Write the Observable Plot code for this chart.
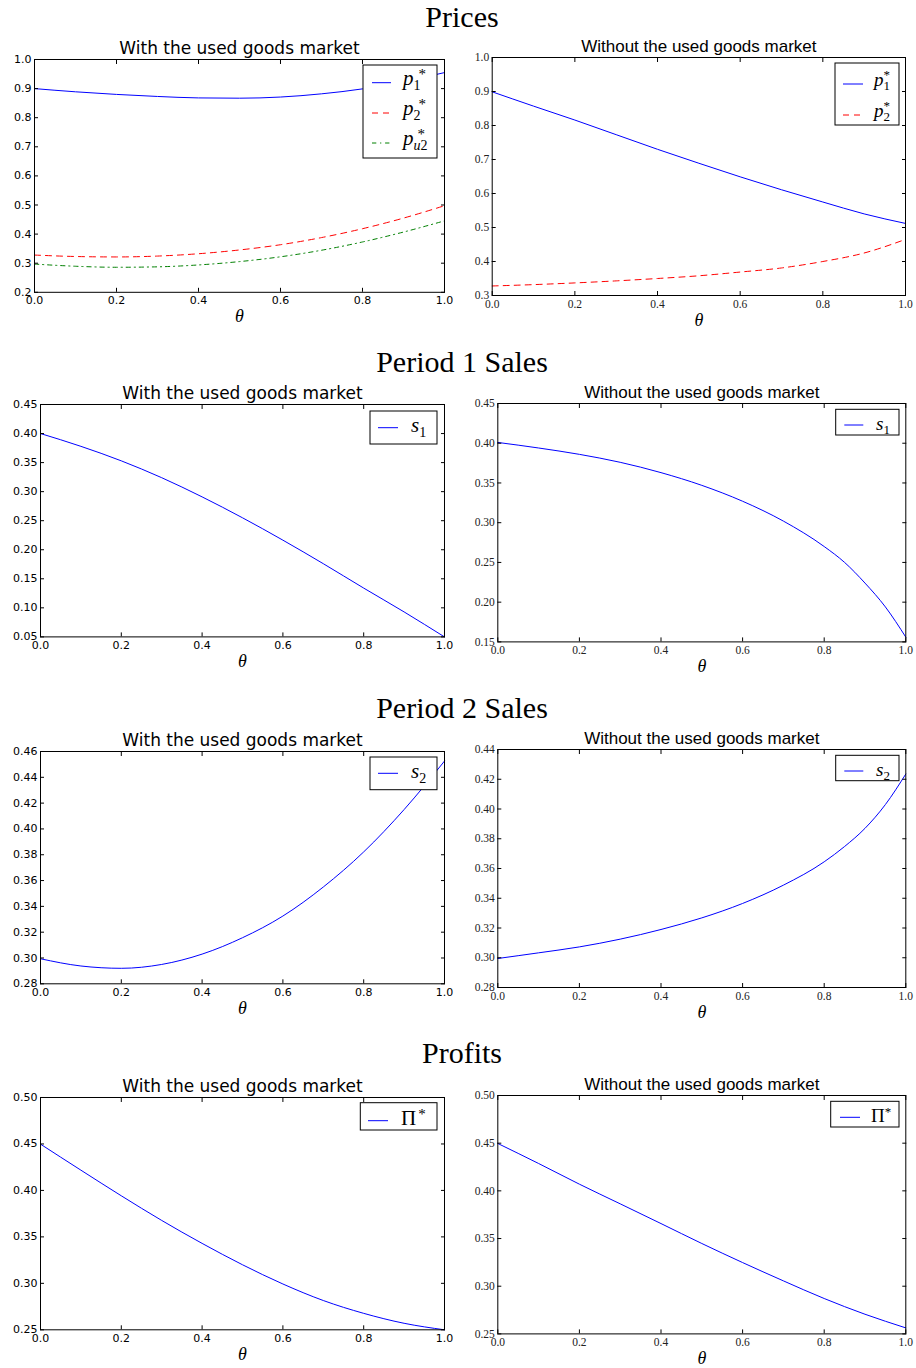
<!DOCTYPE html>
<html>
<head>
<meta charset="utf-8">
<script src="https://cdn.jsdelivr.net/npm/d3@7"></script>
<script src="https://cdn.jsdelivr.net/npm/@observablehq/plot@0.6"></script>
<style>
  html, body { margin: 0; padding: 0; background: #fff; }
  #page { position: relative; width: 916px; height: 1368px; overflow: hidden; background: #fff; }
  .panel { position: absolute; }
  .panel svg { overflow: visible; }
  #overlay { position: absolute; left: 0; top: 0; pointer-events: none; }
</style>
</head>
<body>
<div id="page"></div>
<script>
// ---------------- DATA ----------------
const theta = [0, 0.1, 0.2, 0.3, 0.4, 0.5, 0.6, 0.7, 0.8, 0.9, 1.0];
const thetaFine = [0, 0.1, 0.2, 0.3, 0.4, 0.5, 0.6, 0.7, 0.8, 0.85, 0.9, 0.95, 1.0];
const xTicks = [0, 0.2, 0.4, 0.6, 0.8, 1.0];

const rowTitles = ["Prices", "Period 1 Sales", "Period 2 Sales", "Profits"];
const titleWith = "With the used goods market";
const titleWithout = "Without the used goods market";

// Prices, with the used goods market
const pricesWithP1  = [0.900, 0.889, 0.880, 0.873, 0.868, 0.867, 0.871, 0.882, 0.899, 0.924, 0.955];
const pricesWithP2  = [0.328, 0.323, 0.3215, 0.3245, 0.3325, 0.3455, 0.3635, 0.388, 0.4185, 0.455, 0.4975];
const pricesWithPu2 = [0.297, 0.2895, 0.286, 0.2875, 0.294, 0.3055, 0.322, 0.3445, 0.373, 0.407, 0.4455];
// Prices, without the used goods market
const pricesWithoutP1 = [0.899, 0.857, 0.816, 0.773, 0.730, 0.689, 0.649, 0.611, 0.575, 0.540, 0.512];
const pricesWithoutP2 = [0.328, 0.332, 0.337, 0.343, 0.350, 0.358, 0.369, 0.381, 0.400, 0.425, 0.465];
// Period 1 sales
const sales1With    = [0.400, 0.378, 0.353, 0.324, 0.291, 0.255, 0.2165, 0.176, 0.134, 0.093, 0.050];
const sales1Without = [0.401, 0.394, 0.386, 0.376, 0.363, 0.347, 0.327, 0.302, 0.270, 0.250, 0.224, 0.194, 0.156]; // on thetaFine
// Period 2 sales
const sales2With    = [0.2994, 0.2938, 0.2920, 0.2950, 0.3030, 0.3157, 0.3325, 0.3550, 0.3822, 0.4150, 0.4526];
const sales2Without = [0.2995, 0.3033, 0.3073, 0.3125, 0.3190, 0.3268, 0.3365, 0.3488, 0.3645, 0.3748, 0.3870, 0.4030, 0.4235]; // on thetaFine
// Profits
const profitWith    = [0.4498, 0.4218, 0.3942, 0.3677, 0.3430, 0.3200, 0.2993, 0.2815, 0.2677, 0.2570, 0.2500];
const profitWithout = [0.4497, 0.4287, 0.4070, 0.3864, 0.3657, 0.3448, 0.3248, 0.3056, 0.2871, 0.2706, 0.2563];

// y ticks
const yTicksPricesWith = [0.2, 0.3, 0.4, 0.5, 0.6, 0.7, 0.8, 0.9, 1.0];
const yTicksPricesWithout = [0.3, 0.4, 0.5, 0.6, 0.7, 0.8, 0.9, 1.0];
const yTicksS1With = [0.05, 0.10, 0.15, 0.20, 0.25, 0.30, 0.35, 0.40, 0.45];
const yTicksS1Without = [0.15, 0.20, 0.25, 0.30, 0.35, 0.40, 0.45];
const yTicksS2With = [0.28, 0.30, 0.32, 0.34, 0.36, 0.38, 0.40, 0.42, 0.44, 0.46];
const yTicksS2Without = [0.28, 0.30, 0.32, 0.34, 0.36, 0.38, 0.40, 0.42, 0.44];
const yTicksProfit = [0.25, 0.30, 0.35, 0.40, 0.45, 0.50];

// ---------------- STYLES ----------------
const BLUE = "#0000ff", RED = "#ff0000", GREEN = "#008000";
const DASH = "6,5", DASHDOT = "4.3,3.8,1.2,3.8";

const rows = (xs, ys, key) => xs.map((x, i) => ({theta: x, value: ys[i], key}));

// ---------------- LAYOUT ----------------
const panels = [
  {side: "L", fx0: 34,    fx1: 444,   fy0: 58.5,   fy1: 291.3,  y: [0.2, 1.0], yt: yTicksPricesWith, fmt: ".1f",
   series: [{d: rows(theta, pricesWithP1, "p1"), c: BLUE}, {d: rows(theta, pricesWithP2, "p2"), c: RED, dash: DASH}, {d: rows(theta, pricesWithPu2, "pu2"), c: GREEN, dash: DASHDOT}]},
  {side: "R", fx0: 491.7, fx1: 905,   fy0: 57.3,   fy1: 295.3,  y: [0.3, 1.0], yt: yTicksPricesWithout, fmt: ".1f",
   series: [{d: rows(theta, pricesWithoutP1, "p1"), c: BLUE}, {d: rows(theta, pricesWithoutP2, "p2"), c: RED, dash: DASH}]},
  {side: "L", fx0: 40,    fx1: 444,   fy0: 404.3,  fy1: 636.7,  y: [0.05, 0.45], yt: yTicksS1With, fmt: ".2f",
   series: [{d: rows(theta, sales1With, "s1"), c: BLUE}]},
  {side: "R", fx0: 497.3, fx1: 905.3, fy0: 403.3,  fy1: 641.7,  y: [0.15, 0.45], yt: yTicksS1Without, fmt: ".2f",
   series: [{d: rows(thetaFine, sales1Without, "s1"), c: BLUE}]},
  {side: "L", fx0: 40,    fx1: 444,   fy0: 751,    fy1: 983.3,  y: [0.28, 0.46], yt: yTicksS2With, fmt: ".2f",
   series: [{d: rows(theta, sales2With, "s2"), c: BLUE}]},
  {side: "R", fx0: 497.3, fx1: 905.3, fy0: 749.3,  fy1: 987.3,  y: [0.28, 0.44], yt: yTicksS2Without, fmt: ".2f",
   series: [{d: rows(thetaFine, sales2Without, "s2"), c: BLUE}]},
  {side: "L", fx0: 40,    fx1: 444,   fy0: 1096.7, fy1: 1329,   y: [0.25, 0.50], yt: yTicksProfit, fmt: ".2f",
   series: [{d: rows(theta, profitWith, "pi"), c: BLUE}]},
  {side: "R", fx0: 497.3, fx1: 905.3, fy0: 1095.3, fy1: 1333.7, y: [0.25, 0.50], yt: yTicksProfit, fmt: ".2f",
   series: [{d: rows(theta, profitWithout, "pi"), c: BLUE}]}
];

const page = document.getElementById("page");

for (const p of panels) {
  const left = p.side === "L" ? 0 : 458;
  const width = 458;
  const mT = 40, mB = 45;
  const top = p.fy0 - mT;
  const height = (p.fy1 - p.fy0) + mT + mB;
  const isL = p.side === "L";
  const tickFont = isL ? "DejaVu Sans" : "Liberation Serif";
  const tickFs = isL ? 11 : 11.5;
  const titleFont = isL ? "DejaVu Sans" : "Liberation Sans";
  const fmt = d3.format(p.fmt);
  const fmtX = d3.format(".1f");

  const marks = [];
  for (const s of p.series) {
    marks.push(Plot.line(s.d, {x: "theta", y: "value", stroke: s.c, strokeWidth: 1, strokeDasharray: s.dash || null, curve: "monotone-x"}));
  }
  marks.push(
    Plot.frame({stroke: "#000", strokeWidth: 1}),
    // inward ticks on all four sides
    Plot.axisX({anchor: "bottom", ticks: xTicks, tickSize: 4, dy: -4, tickFormat: () => "", label: null}),
    Plot.axisX({anchor: "top", ticks: xTicks, tickSize: 4, dy: 4, tickFormat: () => "", label: null}),
    Plot.axisY({anchor: "left", ticks: p.yt, tickSize: 4, dx: 4, tickFormat: () => "", label: null}),
    Plot.axisY({anchor: "right", ticks: p.yt, tickSize: 4, dx: -4, tickFormat: () => "", label: null}),
    // tick labels
    Plot.axisX({anchor: "bottom", ticks: xTicks, tickSize: 0, tickPadding: 4, tickFormat: fmtX, label: null,
      fontFamily: tickFont, fontSize: tickFs, fill: isL ? "#000" : "#222"}),
    Plot.axisY({anchor: "left", ticks: p.yt, tickSize: 0, tickPadding: 3, tickFormat: fmt, label: null,
      fontFamily: tickFont, fontSize: tickFs, fill: isL ? "#000" : "#222"}),
    // title
    Plot.text([isL ? titleWith : titleWithout], {frameAnchor: "top", dy: -5.5, lineAnchor: "bottom", text: d => d,
      fontFamily: titleFont, fontSize: 17, fill: "#000"}),
    // x label
    Plot.text(["θ"], {frameAnchor: "bottom", dy: 30, lineAnchor: "bottom", text: d => d,
      fontFamily: "Liberation Serif", fontStyle: "italic", fontSize: 18, fill: "#000"})
  );

  const chart = Plot.plot({
    width, height,
    marginLeft: p.fx0 - left,
    marginRight: left + width - p.fx1,
    marginTop: mT,
    marginBottom: mB,
    x: {domain: [0, 1]},
    y: {domain: p.y},
    style: {background: "transparent", color: "#000", overflow: "visible"},
    marks
  });
  const div = document.createElement("div");
  div.className = "panel";
  div.style.left = left + "px";
  div.style.top = top + "px";
  div.appendChild(chart);
  page.appendChild(div);
}

// ---------------- OVERLAY: row titles + legends ----------------
const titleBaselines = [27, 371.7, 718.3, 1063.3];

const lblL = {
  p1: `<tspan font-style="italic">p</tspan><tspan font-size="14" dy="5">1</tspan><tspan font-size="15" dx="-2" dy="-11">*</tspan>`,
  p2: `<tspan font-style="italic">p</tspan><tspan font-size="14" dy="5">2</tspan><tspan font-size="15" dx="-2" dy="-11">*</tspan>`,
  pu2: `<tspan font-style="italic">p</tspan><tspan font-size="14" dy="5" font-style="italic">u</tspan><tspan font-size="14">2</tspan><tspan font-size="15" dx="-10" dy="-11">*</tspan>`,
  s1: `<tspan font-style="italic">s</tspan><tspan font-size="14" dy="5">1</tspan>`,
  s2: `<tspan font-style="italic">s</tspan><tspan font-size="14" dy="5">2</tspan>`,
  pi: `<tspan>Π</tspan><tspan font-size="15" dx="2" dy="-6">*</tspan>`
};
const lblR = {
  p1: `<tspan font-style="italic">p</tspan><tspan font-size="13" dy="4">1</tspan><tspan font-size="13" dx="-6.5" dy="-11">*</tspan>`,
  p2: `<tspan font-style="italic">p</tspan><tspan font-size="13" dy="4">2</tspan><tspan font-size="13" dx="-6.5" dy="-11">*</tspan>`,
  s1: `<tspan font-style="italic">s</tspan><tspan font-size="13" dy="4">1</tspan>`,
  s2: `<tspan font-style="italic">s</tspan><tspan font-size="13" dy="4">2</tspan>`,
  pi: `<tspan>Π</tspan><tspan font-size="13" dx="0" dy="-6">*</tspan>`
};

// legend layout (page pixels): box x,y,w,h ; sample line x0,x1 ; text x ; entry centers relative to box top
const legends = [
  {bx: 363,   by: 65,     bw: 74,   bh: 93,   lx0: 372,   lx1: 391,   tx: 403,   fs: 21, set: lblL,
   items: [{cy: 17.7, k: "p1", c: BLUE}, {cy: 48, k: "p2", c: RED, dash: DASH}, {cy: 78, k: "pu2", c: GREEN, dash: DASHDOT}]},
  {bx: 835,   by: 63,     bw: 64,   bh: 62,   lx0: 843,   lx1: 863,   tx: 874,   fs: 19, set: lblR,
   items: [{cy: 21, k: "p1", c: BLUE}, {cy: 52, k: "p2", c: RED, dash: DASH}]},
  {bx: 370,   by: 411,    bw: 67,   bh: 33,   lx0: 378,   lx1: 398,   tx: 411,   fs: 21, set: lblL,
   items: [{cy: 16.7, k: "s1", c: BLUE}]},
  {bx: 835.7, by: 409.3,  bw: 63.3, bh: 25.7, lx0: 844.3, lx1: 863.3, tx: 876,   fs: 19, set: lblR,
   items: [{cy: 15.7, k: "s1", c: BLUE}]},
  {bx: 370,   by: 757,    bw: 67,   bh: 32.7, lx0: 378,   lx1: 398,   tx: 411,   fs: 21, set: lblL,
   items: [{cy: 16.3, k: "s2", c: BLUE}]},
  {bx: 835.7, by: 755.3,  bw: 63.3, bh: 25.4, lx0: 844.3, lx1: 863.3, tx: 876,   fs: 19, set: lblR,
   items: [{cy: 15.7, k: "s2", c: BLUE}]},
  {bx: 360.3, by: 1102.7, bw: 76.7, bh: 27.3, lx0: 368,   lx1: 388,   tx: 401,   fs: 21, set: lblL,
   items: [{cy: 18, k: "pi", c: BLUE}]},
  {bx: 830.7, by: 1101.3, bw: 68.3, bh: 25.7, lx0: 840,   lx1: 860,   tx: 871,   fs: 19, set: lblR,
   items: [{cy: 16, k: "pi", c: BLUE}]}
];

let svg = `<svg id="overlay" width="916" height="1368" xmlns="http://www.w3.org/2000/svg">`;
rowTitles.forEach((t, i) => {
  svg += `<text x="462" y="${titleBaselines[i]}" text-anchor="middle" font-family="Liberation Serif" font-size="30" fill="#000">${t}</text>`;
});
for (const L of legends) {
  svg += `<rect x="${L.bx}" y="${L.by}" width="${L.bw}" height="${L.bh}" fill="#fff" stroke="#000" stroke-width="1"/>`;
  for (const it of L.items) {
    const cy = L.by + it.cy;
    svg += `<line x1="${L.lx0}" x2="${L.lx1}" y1="${cy}" y2="${cy}" stroke="${it.c}" stroke-width="1"${it.dash ? ` stroke-dasharray="${it.dash}"` : ""}/>`;
    const base = cy + (it.k.startsWith("p") && it.k !== "pi" ? 2 : 4.5);
    svg += `<text x="${L.tx}" y="${base}" font-family="Liberation Serif" font-size="${L.fs}" fill="#000">${L.set[it.k]}</text>`;
  }
}
svg += `</svg>`;
page.insertAdjacentHTML("beforeend", svg);
</script>
</body>
</html>
